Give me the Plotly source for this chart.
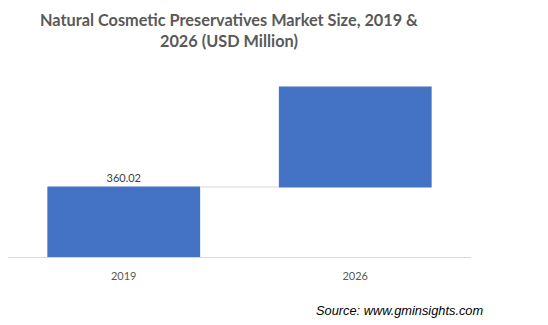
import plotly.graph_objects as go

years = ["2019", "2026"]
measures = ["absolute", "relative"]
values = [360.02, 514.5]
labels = ["360.02", ""]

BLUE = "#4472C4"

fig = go.Figure(go.Waterfall(
    x=years,
    y=values,
    measure=measures,
    text=labels,
    textposition="outside",
    textfont=dict(family="Lato, Open Sans, sans-serif", size=11, color="#404040"),
    increasing=dict(marker=dict(color=BLUE)),
    decreasing=dict(marker=dict(color=BLUE)),
    totals=dict(marker=dict(color=BLUE)),
    connector=dict(line=dict(color="#D9D9D9", width=1)),
    width=0.66,
    cliponaxis=False,
))

fig.update_layout(
    width=548, height=325,
    margin=dict(l=8, r=77, t=75, b=68),
    paper_bgcolor="white", plot_bgcolor="white",
    showlegend=False,
    xaxis=dict(showline=True, linecolor="#D9D9D9", linewidth=1, ticks="",
               ticklabelstandoff=9,
               tickfont=dict(family="Lato, Open Sans, sans-serif", size=11, color="#595959")),
    yaxis=dict(visible=False, range=[0, 936]),
    annotations=[
        dict(text="<b>Natural Cosmetic Preservatives Market Size, 2019 &amp;<br>2026 (USD Million)</b>",
             xref="paper", yref="paper", x=(229-8)/(548-85), y=1, yanchor="bottom",
             yshift=23, showarrow=False, align="center",
             font=dict(family="Lato, Open Sans, sans-serif", size=16.3, color="#595959")),
        dict(text="<i>Source: www.gminsights.com</i>",
             xref="paper", yref="paper", x=(314-8)/(548-85), xanchor="left",
             y=0, yanchor="middle", yshift=-53, showarrow=False,
             font=dict(family="Liberation Sans, Arial, sans-serif", size=12.8, color="#000000")),
    ],
)

fig.write_html("out.html")
